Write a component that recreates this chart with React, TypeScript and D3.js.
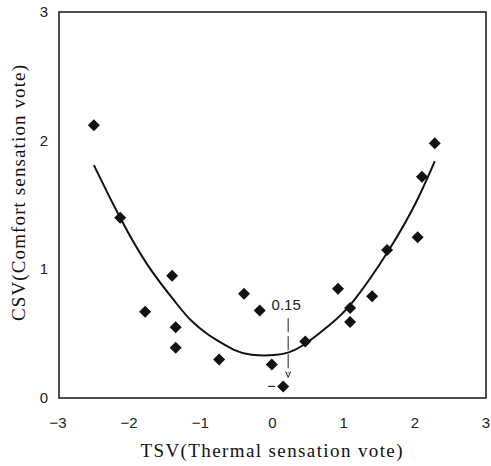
import React from "react";
import * as d3 from "d3";

// Observed points (TSV, CSV)
const tsv = [-2.51, -2.14, -1.79, -1.41, -1.36, -1.36, -0.75, -0.40, -0.18, -0.01, 0.15, 0.46, 0.92, 1.09, 1.09, 1.40, 1.61, 2.04, 2.10, 2.28];
const csv = [2.12, 1.40, 0.67, 0.95, 0.55, 0.39, 0.30, 0.81, 0.68, 0.26, 0.09, 0.44, 0.85, 0.70, 0.59, 0.79, 1.15, 1.25, 1.72, 1.98];

// Fitted curve
const curveX = [-2.51, -2.14, -1.75, -1.34, -1.16, -0.88, -0.78, -0.55, -0.32, 0.06, 0.22, 0.43, 0.81, 1.09, 1.65, 2.03, 2.28];
const curveY = [1.81, 1.39, 1.01, 0.73, 0.60, 0.48, 0.45, 0.37, 0.33, 0.33, 0.35, 0.40, 0.57, 0.70, 1.15, 1.52, 1.84];

const xTicks = [-3, -2, -1, 0, 1, 2, 3];
const yTicks = [0, 1, 2, 3];
const xTickLabels = ["\u22123", "\u22122", "\u22121", "0", "1", "2", "3"];
const yTickLabels = ["0", "1", "2", "3"];

const annotationText = "0.15";
const annotationX = 0.22;
const annotationTopY = 0.62;
const annotationBottomY = 0.16;

const W = 491;
const H = 466;
const left = 59, right = 486, top = 12, bottom = 398;

export default function App() {
  const x = d3.scaleLinear().domain([-3, 3]).range([left, right]);
  const y = d3.scaleLinear().domain([0, 3]).range([bottom, top]);
  const line = d3
    .line<number>()
    .x((_, i) => x(curveX[i]))
    .y((_, i) => y(curveY[i]))
    .curve(d3.curveBasis);
  const diamond = d3.symbol(d3.symbolSquare, 72)();
  const ax = x(annotationX);

  return (
    <svg width={W} height={H} style={{ position: "absolute", left: 0, top: 0, background: "#fff" }}>
      <rect x={left} y={top} width={right - left} height={bottom - top} fill="none" stroke="#222" strokeWidth={1.6} />
      {xTicks.map((t, i) => (
        <text key={"xt" + i} x={x(t) + (t < 0 ? -1 : 0)} y={428} textAnchor="middle" fontFamily="Liberation Sans, Arial, sans-serif" fontSize={15} fill="#222">
          {xTickLabels[i]}
        </text>
      ))}
      {yTicks.map((t, i) => (
        <text key={"yt" + i} x={48} y={y(t) + 5} textAnchor="end" fontFamily="Liberation Sans, Arial, sans-serif" fontSize={15} fill="#222">
          {yTickLabels[i]}
        </text>
      ))}
      <path d={line(curveX) || ""} fill="none" stroke="#111" strokeWidth={2} />
      {tsv.map((v, i) => (
        <path key={"p" + i} d={diamond || ""} transform={`translate(${x(v)},${y(csv[i])}) rotate(45)`} fill="#111" />
      ))}
      <text x={ax - 2} y={310} textAnchor="middle" fontFamily="Liberation Sans, Arial, sans-serif" fontSize={15} fill="#222">
        {annotationText}
      </text>
      <line x1={ax} x2={ax} y1={y(annotationTopY)} y2={y(annotationBottomY) - 4} stroke="#222" strokeWidth={1} strokeDasharray="14 4" />
      <path d={`M${ax - 2.5},${y(annotationBottomY) - 6} L${ax},${y(annotationBottomY)} L${ax + 2.5},${y(annotationBottomY) - 6}`} fill="none" stroke="#222" strokeWidth={1} />
      <line x1={x(0.15) - 15} x2={x(0.15) - 8} y1={y(0.09)} y2={y(0.09)} stroke="#222" strokeWidth={1.2} />
      <text x={(left + right) / 2 - 1} y={457} textAnchor="middle" fontFamily="Liberation Serif, Times New Roman, serif" fontSize={19} fill="#111" textLength={262} lengthAdjust="spacing">
        TSV(Thermal sensation vote)
      </text>
      <text transform={`translate(25,193) rotate(-90)`} textAnchor="middle" fontFamily="Liberation Serif, Times New Roman, serif" fontSize={19} fill="#111" textLength={256} lengthAdjust="spacing">
        CSV(Comfort sensation vote)
      </text>
    </svg>
  );
}
